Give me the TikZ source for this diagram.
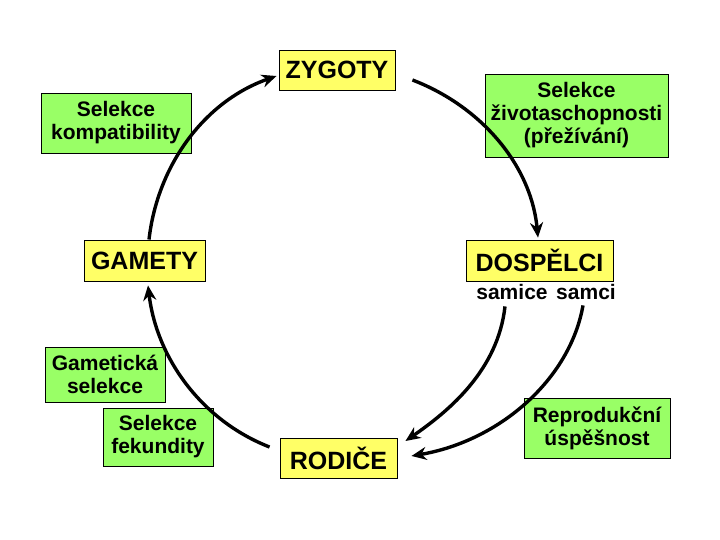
\documentclass[tikz,border=0pt]{standalone}
\usepackage{fontspec}
\setmainfont{Liberation Sans}
\usetikzlibrary{arrows.meta}
\definecolor{boxyellow}{RGB}{255,255,102}
\definecolor{boxgreen}{RGB}{153,255,102}
\tikzset{
  stage/.style={draw=black, line width=0.9pt, fill=boxyellow, inner sep=0pt,
    minimum height=40pt, font=\fontsize{25}{30}\selectfont\bfseries, align=center},
  sel/.style={draw=black, line width=0.9pt, fill=boxgreen, inner sep=0pt,
    font=\fontsize{21}{23}\selectfont\bfseries, align=center},
  sex/.style={inner sep=0pt, font=\fontsize{21}{23}\selectfont\bfseries},
  arr/.style={line width=3.4pt, -{Stealth[length=15pt,width=13pt]}}
}
\begin{document}
\begin{tikzpicture}[x=1pt,y=-1pt]
\useasboundingbox (0,0) rectangle (720,540);
% stages
\node[stage, minimum width=116pt] (zyg) at (337,70) {ZYGOTY};
\node[stage, minimum width=121pt, minimum height=41pt] (gam) at (144.5,260.5) {GAMETY};
\node[stage, minimum width=147pt, minimum height=41pt] (dosp) at (539.5,260.5) {DOSPĚLCI};
\node[stage, minimum width=117pt] (rod) at (338.5,458) {RODIČE};
% sexes
\node[sex, anchor=base] (samice) at (512,299) {samice};
\node[sex, anchor=base] (samci) at (586,299) {samci};
% selection boxes
\node[sel, minimum width=183pt, minimum height=83pt] (ziv) at (576.5,115.5) {Selekce\\životaschopnosti\\(přežívání)};
\node[sel, minimum width=150pt, minimum height=60pt] (komp) at (116,123) {Selekce\\kompatibility};
\node[sel, minimum width=120pt, minimum height=55pt] (gsel) at (105,374.5) {Gametická\\selekce};
\node[sel, minimum width=110pt, minimum height=58pt] (fek) at (158,437) {Selekce\\fekundity};
\node[sel, minimum width=146pt, minimum height=60pt] (repr) at (597,428) {Reprodukční\\úspěšnost};
% cycle arrows
\draw[arr] ([xshift=4.5pt]gam.north) .. controls +(8.6,-75.2) and +(-71.4,25) .. ([shift={(-2,6)}]zyg.west);
\draw[arr] ([shift={(17,10)}]zyg.east) .. controls +(68,26) and +(-7,-73) .. ([shift={(-1.5,-2)}]dosp.north);
\draw[arr] ([shift={(-10,-11)}]rod.west) .. controls +(-68,-26.5) and +(8.6,72.5) .. ([shift={(3.5,4)}]gam.south);
\draw[arr] ([shift={(-7,7)}]samice.south) .. controls +(-7,63) and +(45,-31) .. ([shift={(8,-17)}]rod.east);
\draw[arr] ([shift={(-3,6)}]samci.south) .. controls +(-13,74) and +(88,-15) .. ([shift={(14,-2)}]rod.east);
\end{tikzpicture}
\end{document}
